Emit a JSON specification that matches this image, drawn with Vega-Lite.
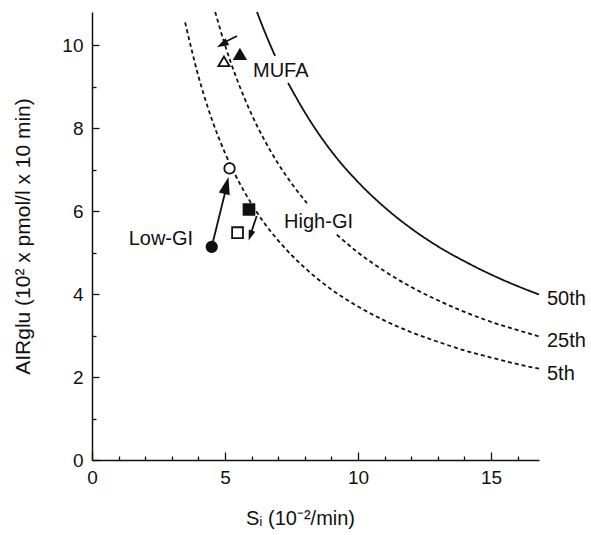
{
  "$schema": "https://vega.github.io/schema/vega-lite/v6.json",
  "width": 447,
  "height": 448,
  "autosize": {"type": "none"},
  "padding": {"left": 92, "top": 12, "right": 52, "bottom": 75},
  "background": "white",
  "config": {
    "view": {"stroke": null},
    "font": "Liberation Sans",
    "axis": {
      "grid": false,
      "domainColor": "#111",
      "domainWidth": 1.5,
      "tickColor": "#111",
      "tickWidth": 1.3,
      "labelColor": "#111",
      "labelFontSize": 19,
      "labelFont": "Liberation Sans",
      "titleFont": "Liberation Sans",
      "titleFontSize": 20,
      "titleFontWeight": "normal",
      "titleColor": "#111",
      "labelFlush": false,
      "labelOverlap": false
    }
  },
  "resolve": {"axis": {"x": "independent", "y": "independent"}},
  "datasets": {
    "curves": [
      {"curve": "50th", "segment": "50th-a", "x": 6.2, "y": 10.8},
      {"curve": "50th", "segment": "50th-a", "x": 6.5, "y": 10.31},
      {"curve": "50th", "segment": "50th-a", "x": 6.88, "y": 9.74},
      {"curve": "50th", "segment": "50th-b", "x": 7.37, "y": 9.09},
      {"curve": "50th", "segment": "50th-b", "x": 8, "y": 8.38},
      {"curve": "50th", "segment": "50th-b", "x": 9, "y": 7.44},
      {"curve": "50th", "segment": "50th-b", "x": 10, "y": 6.7},
      {"curve": "50th", "segment": "50th-b", "x": 11, "y": 6.09},
      {"curve": "50th", "segment": "50th-b", "x": 12, "y": 5.58},
      {"curve": "50th", "segment": "50th-b", "x": 13, "y": 5.15},
      {"curve": "50th", "segment": "50th-b", "x": 14, "y": 4.79},
      {"curve": "50th", "segment": "50th-b", "x": 15, "y": 4.47},
      {"curve": "50th", "segment": "50th-b", "x": 16, "y": 4.19},
      {"curve": "50th", "segment": "50th-b", "x": 16.8, "y": 3.99},
      {"curve": "25th", "segment": "25th-a", "x": 4.63, "y": 10.8},
      {"curve": "25th", "segment": "25th-a", "x": 5, "y": 10},
      {"curve": "25th", "segment": "25th-a", "x": 5.5, "y": 9.09},
      {"curve": "25th", "segment": "25th-a", "x": 6, "y": 8.33},
      {"curve": "25th", "segment": "25th-a", "x": 6.5, "y": 7.69},
      {"curve": "25th", "segment": "25th-a", "x": 7, "y": 7.14},
      {"curve": "25th", "segment": "25th-a", "x": 7.5, "y": 6.67},
      {"curve": "25th", "segment": "25th-a", "x": 8.08, "y": 6.19},
      {"curve": "25th", "segment": "25th-b", "x": 9.2, "y": 5.43},
      {"curve": "25th", "segment": "25th-b", "x": 10, "y": 5},
      {"curve": "25th", "segment": "25th-b", "x": 11, "y": 4.55},
      {"curve": "25th", "segment": "25th-b", "x": 12, "y": 4.17},
      {"curve": "25th", "segment": "25th-b", "x": 13, "y": 3.85},
      {"curve": "25th", "segment": "25th-b", "x": 14, "y": 3.57},
      {"curve": "25th", "segment": "25th-b", "x": 15, "y": 3.33},
      {"curve": "25th", "segment": "25th-b", "x": 16, "y": 3.13},
      {"curve": "25th", "segment": "25th-b", "x": 16.8, "y": 2.98},
      {"curve": "5th", "segment": "5th-a", "x": 3.5, "y": 10.55},
      {"curve": "5th", "segment": "5th-a", "x": 4, "y": 9.25},
      {"curve": "5th", "segment": "5th-a", "x": 4.5, "y": 8.22},
      {"curve": "5th", "segment": "5th-a", "x": 5, "y": 7.4},
      {"curve": "5th", "segment": "5th-a", "x": 5.5, "y": 6.73},
      {"curve": "5th", "segment": "5th-a", "x": 6, "y": 6.17},
      {"curve": "5th", "segment": "5th-a", "x": 6.5, "y": 5.69},
      {"curve": "5th", "segment": "5th-a", "x": 7, "y": 5.29},
      {"curve": "5th", "segment": "5th-a", "x": 8, "y": 4.63},
      {"curve": "5th", "segment": "5th-a", "x": 9, "y": 4.11},
      {"curve": "5th", "segment": "5th-a", "x": 10, "y": 3.7},
      {"curve": "5th", "segment": "5th-a", "x": 11, "y": 3.36},
      {"curve": "5th", "segment": "5th-a", "x": 12, "y": 3.08},
      {"curve": "5th", "segment": "5th-a", "x": 13, "y": 2.85},
      {"curve": "5th", "segment": "5th-a", "x": 14, "y": 2.64},
      {"curve": "5th", "segment": "5th-a", "x": 15, "y": 2.47},
      {"curve": "5th", "segment": "5th-a", "x": 16, "y": 2.31},
      {"curve": "5th", "segment": "5th-a", "x": 16.8, "y": 2.2}
    ],
    "points": [
      {"group": "Low-GI", "state": "baseline", "x": 4.5, "y": 5.14},
      {"group": "Low-GI", "state": "intervention", "x": 5.17, "y": 7.03},
      {"group": "High-GI", "state": "baseline", "x": 5.9, "y": 6.04},
      {"group": "High-GI", "state": "intervention", "x": 5.47, "y": 5.48},
      {"group": "MUFA", "state": "baseline", "x": 5.56, "y": 9.78},
      {"group": "MUFA", "state": "intervention", "x": 4.96, "y": 9.61}
    ],
    "arrows": [
      {"group": "Low-GI", "step": 1, "x": 4.5, "y": 5.14},
      {"group": "Low-GI", "step": 2, "x": 5.1, "y": 6.7},
      {"group": "High-GI", "step": 1, "x": 6.19, "y": 5.88},
      {"group": "High-GI", "step": 2, "x": 5.93, "y": 5.38},
      {"group": "MUFA", "step": 1, "x": 5.45, "y": 10.22},
      {"group": "MUFA", "step": 2, "x": 4.85, "y": 10.03}
    ],
    "heads": [
      {"group": "Low-GI", "x": 5.05, "y": 6.62},
      {"group": "High-GI", "x": 5.95, "y": 5.41},
      {"group": "MUFA", "x": 4.89, "y": 10.02}
    ],
    "labels": [
      {"label": "MUFA", "x": 6.05, "y": 9.23},
      {"label": "High-GI", "x": 7.22, "y": 5.6},
      {"label": "50th", "x": 17.1, "y": 3.74},
      {"label": "25th", "x": 17.1, "y": 2.73},
      {"label": "5th", "x": 17.1, "y": 1.93}
    ],
    "rightLabels": [
      {"label": "Low-GI", "x": 3.8, "y": 5.19}
    ]
  },
  "layer": [
    {
      "data": {"name": "curves"},
      "mark": {"type": "line", "interpolate": "monotone", "color": "#111", "strokeWidth": 1.8},
      "encoding": {
        "x": {
          "field": "x", "type": "quantitative",
          "scale": {"domain": [0, 16.8], "nice": false},
          "axis": {
            "orient": "bottom",
            "values": [0, 5, 10, 15],
            "tickSize": -8,
            "labelPadding": 16,
            "title": "Sᵢ (10⁻²/min)",
            "titlePadding": 21,
            "titleX": 208
          }
        },
        "y": {
          "field": "y", "type": "quantitative",
          "scale": {"domain": [0, 10.8], "nice": false},
          "axis": {
            "orient": "left",
            "values": [0, 2, 4, 6, 8, 10],
            "tickSize": -7,
            "labelPadding": 16,
            "title": "AIRglu (10² x pmol/l x 10 min)",
            "titleFontSize": 21,
            "titlePadding": 28
          }
        },
        "detail": {"field": "segment"},
        "strokeDash": {
          "field": "curve", "type": "nominal",
          "scale": {"domain": ["50th", "25th", "5th"], "range": [[1, 0], [4, 3], [4, 3]]},
          "legend": null
        }
      }
    },
    {
      "data": {"name": "arrows"},
      "mark": {"type": "line", "color": "#111", "strokeWidth": 1.8},
      "encoding": {
        "x": {
          "field": "x", "type": "quantitative",
          "axis": {
            "orient": "bottom",
            "values": [1, 2, 3, 4, 6, 7, 8, 9, 11, 12, 13, 14, 16],
            "tickSize": -4,
            "labels": false,
            "domain": false,
            "title": null
          }
        },
        "y": {
          "field": "y", "type": "quantitative",
          "axis": {
            "orient": "left",
            "values": [1, 3, 5, 7, 9],
            "tickSize": -4,
            "labels": false,
            "domain": false,
            "title": null
          }
        },
        "detail": {"field": "group"},
        "order": {"field": "step"}
      }
    },
    {
      "data": {"name": "points"},
      "mark": {"type": "point", "stroke": "#111", "strokeWidth": 1.8, "opacity": 1},
      "encoding": {
        "x": {"field": "x", "type": "quantitative", "axis": null},
        "y": {"field": "y", "type": "quantitative", "axis": null},
        "shape": {
          "field": "group", "type": "nominal",
          "scale": {"domain": ["Low-GI", "High-GI", "MUFA"], "range": ["circle", "square", "triangle-up"]},
          "legend": null
        },
        "fill": {
          "field": "state", "type": "nominal",
          "scale": {"domain": ["baseline", "intervention"], "range": ["#111", "white"]},
          "legend": null
        },
        "size": {
          "field": "group", "type": "nominal",
          "scale": {"domain": ["Low-GI", "High-GI", "MUFA"], "range": [110, 125, 110]},
          "legend": null
        }
      }
    },
    {
      "data": {"name": "heads"},
      "transform": [{"filter": "datum.group === 'Low-GI'"}],
      "mark": {"type": "point", "shape": "M0,-1L0.65,1L-0.65,1Z", "filled": true, "color": "#111", "opacity": 1, "size": 300, "angle": 14},
      "encoding": {
        "x": {"field": "x", "type": "quantitative", "axis": null},
        "y": {"field": "y", "type": "quantitative", "axis": null}
      }
    },
    {
      "data": {"name": "heads"},
      "transform": [{"filter": "datum.group === 'High-GI'"}],
      "mark": {"type": "point", "shape": "M0,-1L0.65,1L-0.65,1Z", "filled": true, "color": "#111", "opacity": 1, "size": 110, "angle": 199},
      "encoding": {
        "x": {"field": "x", "type": "quantitative", "axis": null},
        "y": {"field": "y", "type": "quantitative", "axis": null}
      }
    },
    {
      "data": {"name": "heads"},
      "transform": [{"filter": "datum.group === 'MUFA'"}],
      "mark": {"type": "point", "shape": "M0,-1L0.65,1L-0.65,1Z", "filled": true, "color": "#111", "opacity": 1, "size": 140, "angle": 242},
      "encoding": {
        "x": {"field": "x", "type": "quantitative", "axis": null},
        "y": {"field": "y", "type": "quantitative", "axis": null}
      }
    },
    {
      "data": {"name": "labels"},
      "mark": {"type": "text", "align": "left", "baseline": "alphabetic", "fontSize": 20, "color": "#111", "font": "Liberation Sans"},
      "encoding": {
        "x": {"field": "x", "type": "quantitative", "axis": null},
        "y": {"field": "y", "type": "quantitative", "axis": null},
        "text": {"field": "label"}
      }
    },
    {
      "data": {"name": "rightLabels"},
      "mark": {"type": "text", "align": "right", "baseline": "alphabetic", "fontSize": 20, "color": "#111", "font": "Liberation Sans"},
      "encoding": {
        "x": {"field": "x", "type": "quantitative", "axis": null},
        "y": {"field": "y", "type": "quantitative", "axis": null},
        "text": {"field": "label"}
      }
    }
  ]
}
